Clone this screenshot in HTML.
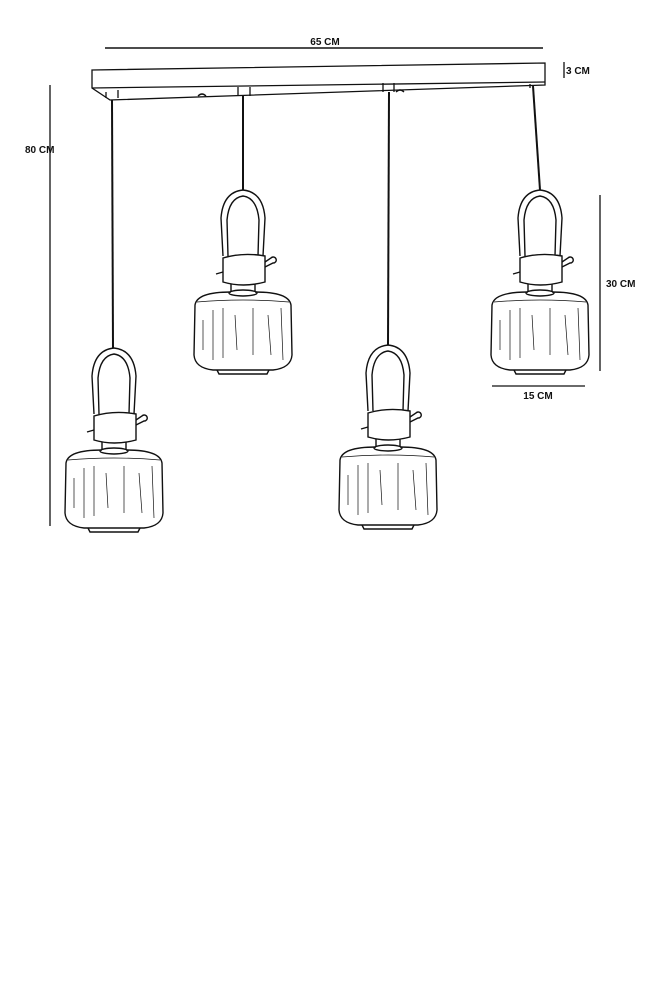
<!DOCTYPE html>
<html><head><meta charset="utf-8"><style>
html,body{margin:0;padding:0;background:#fff;}
svg{display:block;}
text{font-family:"Liberation Sans",sans-serif;font-weight:bold;font-size:10px;fill:#111;}
</style></head><body>
<svg width="666" height="1000" viewBox="0 0 666 1000" xmlns="http://www.w3.org/2000/svg">
<defs>
<g id="lamp" fill="none" stroke="#111" stroke-width="1.4">
  <!-- handle arches -->
  <path d="M-20,66 L-22,28 Q-20,2 0,0 Q20,2 22,28 L20,66"/>
  <path d="M-15,66 L-16,30 Q-14,8 0,6 Q14,8 16,30 L15,66"/>
  <!-- socket body -->
  <path d="M-20,68 Q0,62 22,66 L22,92 Q0,98 -20,92 Z" fill="#fff"/>
  <path d="M22,72 l6,-4 a3,3 0 1 1 2,5 l-8,4" />
  <path d="M-20,82 l-7,2" />
  <!-- neck -->
  <path d="M-12,94 L-12,102 M12,94 L12,102"/>
  <!-- shade -->
  <path d="M-12,102 Q-46,102 -48,115 L-49,165 Q-48,178 -30,180 L30,180 Q48,178 49,165 L48,115 Q46,102 12,102" />
  <ellipse cx="0" cy="103" rx="14" ry="3"/>
  <path d="M-26,180 L-24,184 L24,184 L26,180"/>
  <path d="M-30,120 L-30,170 M-20,118 L-20,168 M-8,125 L-6,160 M10,118 L10,165 M25,125 L28,165 M-40,130 L-40,160 M38,118 L40,170" stroke-width="0.7"/>
  <path d="M-46,112 Q0,108 46,112" stroke-width="0.7"/>
</g>
</defs>
<line x1="105" y1="48" x2="543" y2="48" stroke="#111" stroke-width="1.6"/>
<text x="325" y="45" text-anchor="middle">65 CM</text>
<line x1="564" y1="62" x2="564" y2="78" stroke="#111" stroke-width="1.3"/>
<text x="566" y="74">3 CM</text>
<line x1="50" y1="85" x2="50" y2="526" stroke="#111" stroke-width="1.3"/>
<text x="25" y="153">80 CM</text>
<line x1="600" y1="195" x2="600" y2="371" stroke="#111" stroke-width="1.3"/>
<text x="606" y="287">30 CM</text>
<line x1="492" y1="386" x2="585" y2="386" stroke="#111" stroke-width="1.3"/>
<text x="538" y="399" text-anchor="middle">15 CM</text>
<g fill="none" stroke="#111" stroke-width="1.3">
<path d="M92,70 L545,63 L545,85 L110,100 L92,88 Z" fill="#fff"/>
<path d="M92,88 L545,82"/>
<path d="M106,98 L106,92 M118,98 L118,90 M238,96 L238,87 M250,96 L250,87 M383,92 L383,83 M394,92 L394,83 M530,88 L530,84"/>
<path d="M198,96 q4,-4 8,0 M396,92 q4,-4 8,0"/>
<line x1="112" y1="100" x2="113" y2="348" stroke-width="2"/>
<line x1="243" y1="96" x2="243" y2="190" stroke-width="2"/>
<line x1="389" y1="92" x2="388" y2="345" stroke-width="2"/>
<line x1="533" y1="86" x2="540" y2="190" stroke-width="2"/>
</g>
<use href="#lamp" transform="translate(114,348)"/>
<use href="#lamp" transform="translate(243,190)"/>
<use href="#lamp" transform="translate(388,345)"/>
<use href="#lamp" transform="translate(540,190)"/>
</svg>
</body></html>
